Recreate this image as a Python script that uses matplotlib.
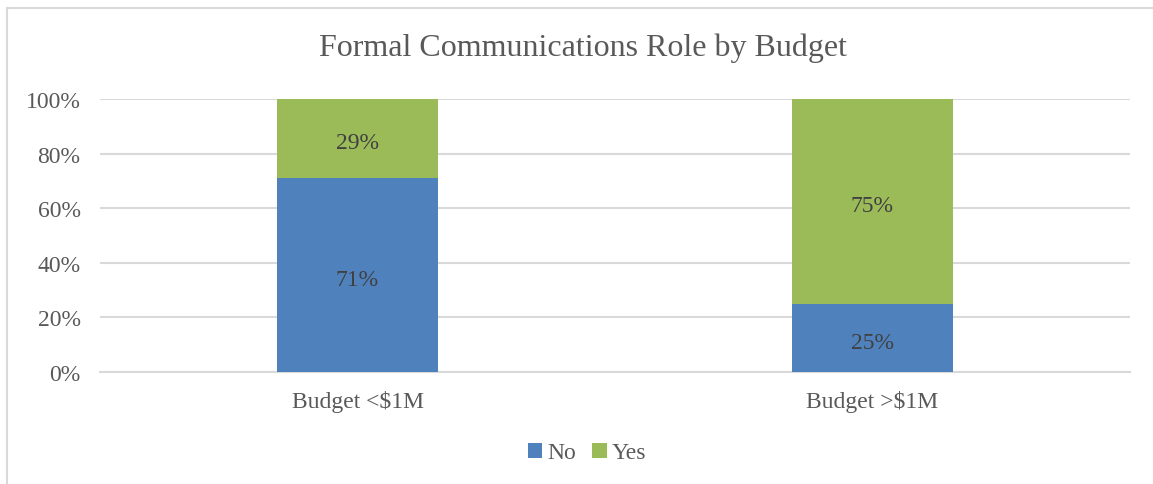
import matplotlib.pyplot as plt
import numpy as np

# data
categories = ['Budget <$1M', 'Budget >$1M']
no_share = [71, 25]
yes_share = [29, 75]
series_names = ['No', 'Yes']
y_ticks = [0, 20, 40, 60, 80, 100]

plt.rcParams['font.family'] = ['Liberation Serif', 'DejaVu Serif']

fig = plt.figure(figsize=(11.53, 4.85), dpi=100)
ax = fig.add_axes([100 / 1153, 1 - 373 / 485, 1030 / 1153, 273 / 485])

x = np.arange(len(categories))
w = 0.3125
b1 = ax.bar(x, no_share, w, color='#4F81BD', label=series_names[0], zorder=3)
b2 = ax.bar(x, yes_share, w, bottom=no_share, color='#9BBB59', label=series_names[1], zorder=3)

# percentage labels in the middle of each segment
for bars, vals in [(b1, no_share), (b2, yes_share)]:
    for rect, v in zip(bars, vals):
        ax.annotate(f'{v}%', (rect.get_x() + rect.get_width() / 2, rect.get_y() + rect.get_height() / 2),
                    xytext=(0, -3), textcoords='offset points',
                    ha='center', va='center', fontsize=17, color='#404040', zorder=4)

ax.set_xlim(-0.5, 1.5)
ax.set_ylim(0, 100)
ax.set_yticks(y_ticks)
ax.set_yticklabels([f'{t}%' for t in y_ticks])
ax.set_xticks(x)
ax.set_xticklabels(categories)
ax.tick_params(axis='both', length=0, labelsize=17, labelcolor='#595959')
ax.tick_params(axis='y', pad=14)
ax.tick_params(axis='x', pad=13)
ax.grid(axis='y', color='#D9D9D9', linewidth=1.5, zorder=0)
for s in ['top', 'right', 'left']:
    ax.spines[s].set_visible(False)
ax.spines['bottom'].set_color('#D9D9D9')
ax.spines['bottom'].set_linewidth(1.5)

fig.text(583 / 1153, 1 - 48 / 485, 'Formal Communications Role by Budget',
         ha='center', va='center', fontsize=23, color='#595959')

fig.legend(loc='center', bbox_to_anchor=(587 / 1153, 1 - 454 / 485), ncol=2, frameon=False,
           fontsize=17, handlelength=0.6, handleheight=0.6, handletextpad=0.2,
           columnspacing=0.7, labelcolor='#595959')

# chart frame
fig.add_artist(plt.Line2D([7 / 1153, 1], [1 - 9 / 485, 1 - 9 / 485], color='#D9D9D9', linewidth=1.5))
fig.add_artist(plt.Line2D([7 / 1153, 7 / 1153], [0, 1 - 9 / 485], color='#D9D9D9', linewidth=1.5))

fig.savefig('out.png', dpi=100)
